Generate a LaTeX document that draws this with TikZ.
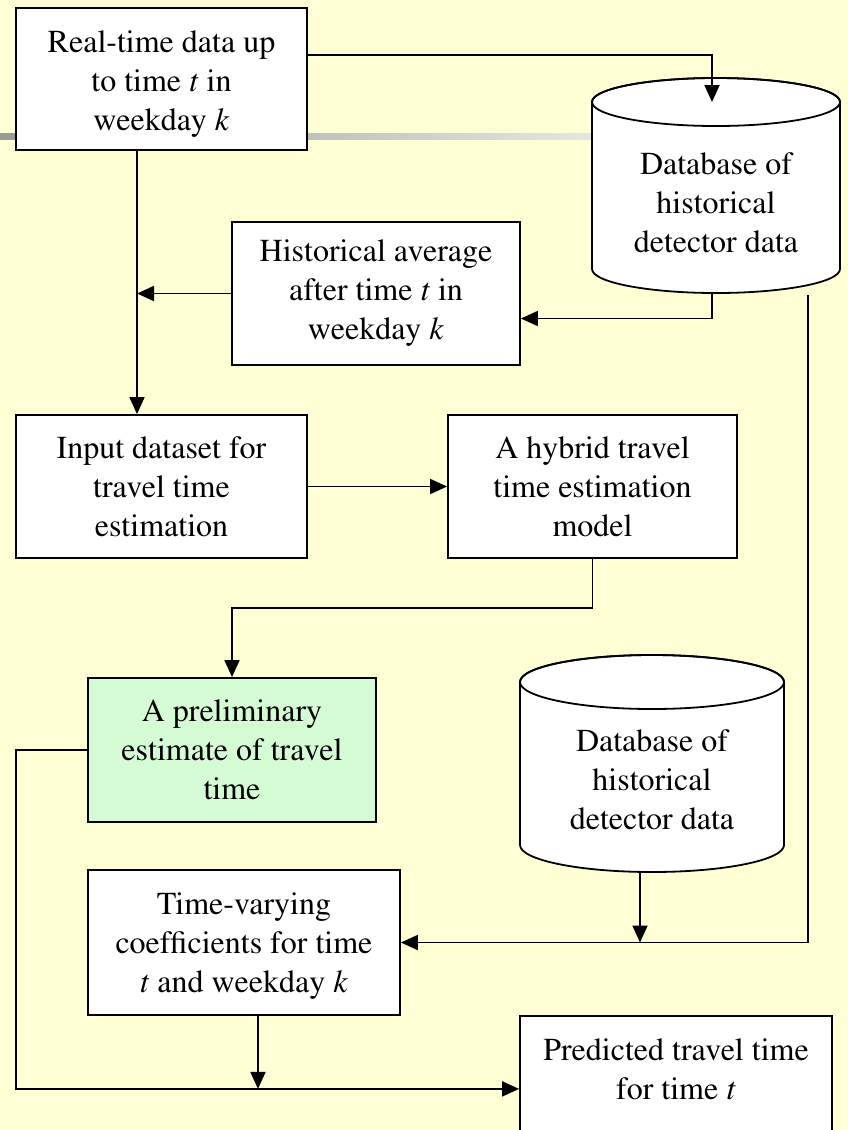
\documentclass[tikz,border=0pt]{standalone}
\usepackage[T1]{fontenc}
\usepackage{mathptmx}
\usetikzlibrary{arrows.meta,positioning,calc}
\definecolor{slidebg}{RGB}{255,255,213}
\definecolor{prelimgreen}{RGB}{213,251,213}

\tikzset{
  flowbox/.style={draw, line width=1.8pt, fill=white, align=center, inner sep=0pt,
    font=\fontsize{32}{39}\selectfont},
  dbtext/.style={align=center, inner sep=0pt, font=\fontsize{32}{39}\selectfont},
  plain/.style={line width=1.8pt},
  link/.style={line width=1.8pt, -{Triangle[length=17pt,width=15pt]}},
}

\begin{document}
\begin{tikzpicture}[x=1pt, y=-1pt]
        \fill[slidebg] (0,0) rectangle (848,1130);
        \useasboundingbox (0,0) rectangle (848,1130);

        % slide decoration bar
        \shade[left color=gray!80, right color=gray!20] (0,133) rectangle (594,139);

        % databases
        \draw[plain, fill=white] (592,102) -- (592,269) arc[start angle=180, end angle=0, x radius=124, y radius=24]
          -- (840,102) arc[start angle=0, end angle=-180, x radius=124, y radius=24] -- cycle;
        \draw[plain] (716,102) ellipse [x radius=124, y radius=24];
        \node[dbtext] (histdb) at (716,203) {Database of\\historical\\detector data};

        \draw[plain, fill=white] (520,682) -- (520,845) arc[start angle=180, end angle=0, x radius=132, y radius=27]
          -- (784,682) arc[start angle=0, end angle=-180, x radius=132, y radius=27] -- cycle;
        \draw[plain] (652,682) ellipse [x radius=132, y radius=27];
        \node[dbtext] (histdbb) at (652,780) {Database of\\historical\\detector data};

        \path
        (712,102) coordinate (histdbtop)
        (712,293) coordinate (histdbbot)
        (808,295) coordinate (histdbtap)
        (640,872) coordinate (histdbbbot)
        (137,0) coordinate (trunk)
        (16,750) coordinate (leftrail)
        ;

        % boxes
        \node[flowbox, minimum width=291pt, minimum height=142pt] (realtime) at (161.5,79)
          {\rule{0pt}{32pt}Real-time data up\\to time \textit{t} in\\weekday \textit{k}};
        \node[flowbox, minimum width=288pt, minimum height=143pt] (histavg) at (376,293.5)
          {Historical average\\after time \textit{t} in\\weekday \textit{k}};
        \node[flowbox, minimum width=291pt, minimum height=143pt] (input) at (161.5,486.5)
          {Input dataset for\\travel time\\estimation};
        \node[flowbox, minimum width=289pt, minimum height=143pt] (hybrid) at (592.5,486.5)
          {A hybrid travel\\time estimation\\model};
        \node[flowbox, fill=prelimgreen, minimum width=288pt, minimum height=144pt] (prelim) at (232,750)
          {A preliminary\\estimate of travel\\time};
        \node[flowbox, minimum width=312pt, minimum height=145pt] (coeff) at (244,942.5)
          {\rule{0pt}{28pt}Time-varying\\coefficients for time\\\textit{t} and weekday \textit{k}};
        \node[flowbox, minimum width=312pt, minimum height=146pt, anchor=north] (predicted) at (676,1015)
          {Predicted travel time\\for time \textit{t}\\\mbox{}};

        % connectors
        \draw[link] ([yshift=24pt]realtime.east) -| (histdbtop);
        \draw[link] (histdbbot) |- ([yshift=-25pt]histavg.east);
        \draw[link] (histavg.west) -- (histavg.west -| trunk);
        \draw[link] (realtime.south -| trunk) -- (input.north -| trunk);
        \draw[link] (input) -- (hybrid);
        \draw[link] (hybrid.south) -- ++(0,49) -| (prelim.north);
        \draw[link] (prelim.west) -- (leftrail) |- (predicted.west);
        \draw[link] (histdbtap) |- (coeff.east);
        \draw[link] (histdbbbot) -- (histdbbbot |- coeff.east);
        \draw[link] ([xshift=14pt]coeff.south) -- ([xshift=14pt]coeff.south |- predicted.west);
\end{tikzpicture}
\end{document}
